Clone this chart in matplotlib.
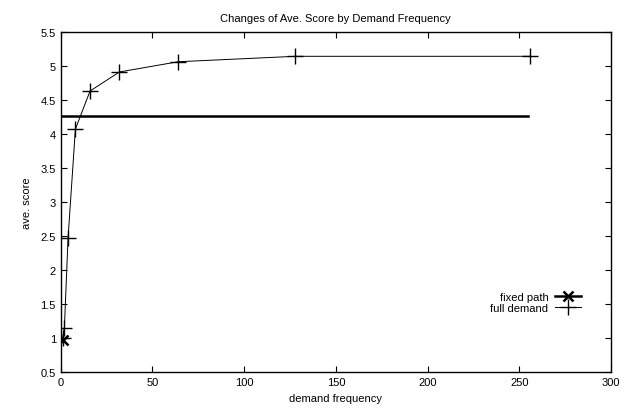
import matplotlib
matplotlib.use("Agg")
import matplotlib.pyplot as plt
from matplotlib.lines import Line2D

plt.rcParams['font.family'] = ['Liberation Sans', 'DejaVu Sans']

# full demand series
demand_x = [1, 2, 4, 8, 16, 32, 64, 128, 256]
demand_y = [1.0, 1.15, 2.47, 4.07, 4.63, 4.91, 5.06, 5.14, 5.14]

# fixed path series
fixed_x = [0, 255]
fixed_y = [4.27, 4.27]
fixed_pt_x = [1]
fixed_pt_y = [0.97]

xticks = [0, 50, 100, 150, 200, 250, 300]
yticks = [0.5, 1, 1.5, 2, 2.5, 3, 3.5, 4, 4.5, 5, 5.5]
ytick_labels = ['0.5', '1', '1.5', '2', '2.5', '3', '3.5', '4', '4.5', '5', '5.5']

fig = plt.figure(figsize=(6.26, 4.10), dpi=100)
ax = fig.add_axes([0.097, 0.090, 0.879, 0.830])

ax.plot(fixed_x, fixed_y, color='black', lw=1.8)
ax.plot(fixed_pt_x, fixed_pt_y, color='black', marker='x', ms=7, mew=1.8, ls='none')
ax.plot(demand_x, demand_y, color='black', lw=0.7, marker='+', ms=11, mew=1.0)

ax.set_xlim(0, 300)
ax.set_ylim(0.5, 5.5)
ax.set_xticks(xticks)
ax.set_yticks(yticks)
ax.set_yticklabels(ytick_labels)
ax.tick_params(direction='in', top=True, right=True, labelsize=8, length=4, width=0.8)
for s in ax.spines.values():
    s.set_linewidth(1.0)

ax.set_title("Changes of Ave. Score by Demand Frequency", fontsize=8, pad=8)
ax.set_xlabel("demand frequency", fontsize=8, labelpad=4)
ax.set_ylabel("ave. score", fontsize=8, labelpad=6)

handles = [
    Line2D([], [], color='black', lw=1.8, marker='x', ms=7, mew=1.8),
    Line2D([], [], color='black', lw=0.7, marker='+', ms=11, mew=1.0),
]
ax.legend(handles, ['fixed path', 'full demand'], loc='center right',
          bbox_to_anchor=(0.955, 0.205), frameon=False, markerfirst=False,
          fontsize=8, handlelength=2.3, handletextpad=0.6, labelspacing=0.1,
          borderpad=0)

fig.savefig("out.png", dpi=100)
